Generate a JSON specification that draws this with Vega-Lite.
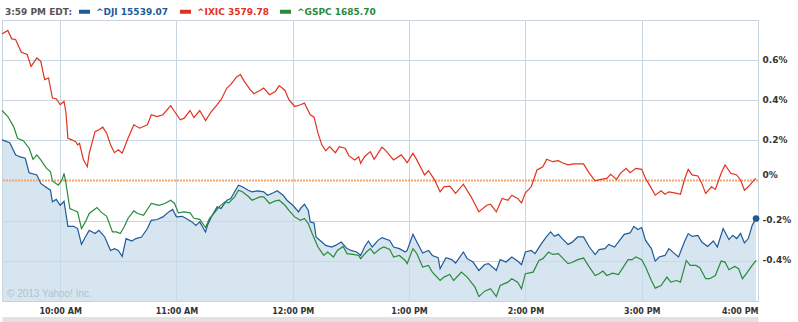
{
  "$schema": "https://vega.github.io/schema/vega-lite/v6.json",
  "width": 756,
  "height": 281,
  "autosize": {"type": "none"},
  "padding": {"left": 2, "top": 20, "right": 40, "bottom": 21},
  "background": "white",
  "config": {"view": {"stroke": "#c5d3de", "strokeWidth": 1}, "font": "DejaVu Sans"},
  "datasets": {
    "quotes": [
      {"s":"IXIC","m":0,"p":0.73},{"s":"IXIC","m":3,"p":0.748},{"s":"IXIC","m":5,"p":0.706},{"s":"IXIC","m":7,"p":0.703},{"s":"IXIC","m":10,"p":0.639},{"s":"IXIC","m":13,"p":0.628},{"s":"IXIC","m":15,"p":0.569},{"s":"IXIC","m":18,"p":0.611},{"s":"IXIC","m":20,"p":0.594},{"s":"IXIC","m":22,"p":0.503},{"s":"IXIC","m":24,"p":0.511},{"s":"IXIC","m":26,"p":0.411},{"s":"IXIC","m":28,"p":0.408},{"s":"IXIC","m":30,"p":0.378},{"s":"IXIC","m":32,"p":0.394},{"s":"IXIC","m":33,"p":0.338},{"s":"IXIC","m":34,"p":0.211},{"s":"IXIC","m":36,"p":0.203},{"s":"IXIC","m":38,"p":0.194},{"s":"IXIC","m":39,"p":0.178},{"s":"IXIC","m":40,"p":0.186},{"s":"IXIC","m":42,"p":0.103},{"s":"IXIC","m":44,"p":0.069},{"s":"IXIC","m":45,"p":0.136},{"s":"IXIC","m":48,"p":0.244},{"s":"IXIC","m":50,"p":0.253},{"s":"IXIC","m":52,"p":0.266},{"s":"IXIC","m":54,"p":0.236},{"s":"IXIC","m":56,"p":0.178},{"s":"IXIC","m":58,"p":0.139},{"s":"IXIC","m":60,"p":0.153},{"s":"IXIC","m":62,"p":0.136},{"s":"IXIC","m":65,"p":0.211},{"s":"IXIC","m":68,"p":0.278},{"s":"IXIC","m":71,"p":0.261},{"s":"IXIC","m":75,"p":0.278},{"s":"IXIC","m":77,"p":0.328},{"s":"IXIC","m":80,"p":0.319},{"s":"IXIC","m":83,"p":0.328},{"s":"IXIC","m":87,"p":0.373},{"s":"IXIC","m":89,"p":0.344},{"s":"IXIC","m":92,"p":0.303},{"s":"IXIC","m":94,"p":0.311},{"s":"IXIC","m":97,"p":0.349},{"s":"IXIC","m":99,"p":0.314},{"s":"IXIC","m":102,"p":0.349},{"s":"IXIC","m":105,"p":0.299},{"s":"IXIC","m":108,"p":0.344},{"s":"IXIC","m":111,"p":0.378},{"s":"IXIC","m":113,"p":0.403},{"s":"IXIC","m":116,"p":0.461},{"s":"IXIC","m":118,"p":0.478},{"s":"IXIC","m":121,"p":0.516},{"s":"IXIC","m":123,"p":0.528},{"s":"IXIC","m":125,"p":0.494},{"s":"IXIC","m":128,"p":0.453},{"s":"IXIC","m":130,"p":0.433},{"s":"IXIC","m":133,"p":0.449},{"s":"IXIC","m":135,"p":0.461},{"s":"IXIC","m":138,"p":0.428},{"s":"IXIC","m":141,"p":0.444},{"s":"IXIC","m":143,"p":0.473},{"s":"IXIC","m":146,"p":0.449},{"s":"IXIC","m":148,"p":0.403},{"s":"IXIC","m":151,"p":0.369},{"s":"IXIC","m":154,"p":0.378},{"s":"IXIC","m":156,"p":0.386},{"s":"IXIC","m":159,"p":0.328},{"s":"IXIC","m":161,"p":0.316},{"s":"IXIC","m":163,"p":0.236},{"s":"IXIC","m":165,"p":0.178},{"s":"IXIC","m":167,"p":0.148},{"s":"IXIC","m":169,"p":0.169},{"s":"IXIC","m":172,"p":0.139},{"s":"IXIC","m":174,"p":0.169},{"s":"IXIC","m":177,"p":0.161},{"s":"IXIC","m":179,"p":0.123},{"s":"IXIC","m":182,"p":0.103},{"s":"IXIC","m":184,"p":0.119},{"s":"IXIC","m":185,"p":0.086},{"s":"IXIC","m":187,"p":0.119},{"s":"IXIC","m":190,"p":0.144},{"s":"IXIC","m":192,"p":0.106},{"s":"IXIC","m":196,"p":0.166},{"s":"IXIC","m":198,"p":0.149},{"s":"IXIC","m":202,"p":0.103},{"s":"IXIC","m":206,"p":0.128},{"s":"IXIC","m":209,"p":0.089},{"s":"IXIC","m":212,"p":0.136},{"s":"IXIC","m":214,"p":0.103},{"s":"IXIC","m":218,"p":0.028},{"s":"IXIC","m":220,"p":0.049},{"s":"IXIC","m":223,"p":0.006},{"s":"IXIC","m":226,"p":-0.056},{"s":"IXIC","m":228,"p":-0.031},{"s":"IXIC","m":231,"p":-0.028},{"s":"IXIC","m":234,"p":-0.064},{"s":"IXIC","m":238,"p":-0.018},{"s":"IXIC","m":242,"p":-0.081},{"s":"IXIC","m":246,"p":-0.156},{"s":"IXIC","m":250,"p":-0.123},{"s":"IXIC","m":252,"p":-0.118},{"s":"IXIC","m":255,"p":-0.156},{"s":"IXIC","m":258,"p":-0.089},{"s":"IXIC","m":261,"p":-0.098},{"s":"IXIC","m":263,"p":-0.073},{"s":"IXIC","m":266,"p":-0.089},{"s":"IXIC","m":268,"p":-0.111},{"s":"IXIC","m":270,"p":-0.061},{"s":"IXIC","m":273,"p":-0.031},{"s":"IXIC","m":276,"p":0.053},{"s":"IXIC","m":279,"p":0.069},{"s":"IXIC","m":281,"p":0.106},{"s":"IXIC","m":284,"p":0.094},{"s":"IXIC","m":287,"p":0.099},{"s":"IXIC","m":289,"p":0.089},{"s":"IXIC","m":292,"p":0.078},{"s":"IXIC","m":295,"p":0.083},{"s":"IXIC","m":300,"p":0.083},{"s":"IXIC","m":303,"p":0.036},{"s":"IXIC","m":306,"p":-0.001},{"s":"IXIC","m":309,"p":0.006},{"s":"IXIC","m":312,"p":0.011},{"s":"IXIC","m":314,"p":0.031},{"s":"IXIC","m":317,"p":0.006},{"s":"IXIC","m":319,"p":0.036},{"s":"IXIC","m":322,"p":0.061},{"s":"IXIC","m":324,"p":0.039},{"s":"IXIC","m":327,"p":0.061},{"s":"IXIC","m":330,"p":0.056},{"s":"IXIC","m":332,"p":0.011},{"s":"IXIC","m":335,"p":-0.039},{"s":"IXIC","m":337,"p":-0.073},{"s":"IXIC","m":340,"p":-0.051},{"s":"IXIC","m":342,"p":-0.068},{"s":"IXIC","m":344,"p":-0.056},{"s":"IXIC","m":347,"p":-0.061},{"s":"IXIC","m":350,"p":-0.068},{"s":"IXIC","m":352,"p":0.003},{"s":"IXIC","m":354,"p":0.056},{"s":"IXIC","m":356,"p":0.028},{"s":"IXIC","m":359,"p":0.023},{"s":"IXIC","m":361,"p":-0.014},{"s":"IXIC","m":363,"p":-0.064},{"s":"IXIC","m":366,"p":-0.031},{"s":"IXIC","m":368,"p":-0.044},{"s":"IXIC","m":371,"p":0.036},{"s":"IXIC","m":373,"p":0.078},{"s":"IXIC","m":376,"p":0.036},{"s":"IXIC","m":379,"p":0.028},{"s":"IXIC","m":381,"p":0.003},{"s":"IXIC","m":383,"p":-0.048},{"s":"IXIC","m":385,"p":-0.031},{"s":"IXIC","m":388,"p":0.003},{"s":"IXIC","m":389,"p":0.011},
      {"s":"DJI","m":0,"p":0.203},{"s":"DJI","m":4,"p":0.189},{"s":"DJI","m":7,"p":0.128},{"s":"DJI","m":9,"p":0.119},{"s":"DJI","m":12,"p":0.111},{"s":"DJI","m":14,"p":0.039},{"s":"DJI","m":18,"p":0.028},{"s":"DJI","m":20,"p":-0.014},{"s":"DJI","m":22,"p":-0.028},{"s":"DJI","m":25,"p":-0.048},{"s":"DJI","m":26,"p":-0.106},{"s":"DJI","m":28,"p":-0.094},{"s":"DJI","m":30,"p":-0.123},{"s":"DJI","m":32,"p":-0.103},{"s":"DJI","m":34,"p":-0.228},{"s":"DJI","m":37,"p":-0.228},{"s":"DJI","m":39,"p":-0.239},{"s":"DJI","m":41,"p":-0.318},{"s":"DJI","m":43,"p":-0.281},{"s":"DJI","m":45,"p":-0.248},{"s":"DJI","m":48,"p":-0.264},{"s":"DJI","m":50,"p":-0.248},{"s":"DJI","m":53,"p":-0.281},{"s":"DJI","m":56,"p":-0.348},{"s":"DJI","m":58,"p":-0.339},{"s":"DJI","m":60,"p":-0.348},{"s":"DJI","m":62,"p":-0.378},{"s":"DJI","m":64,"p":-0.289},{"s":"DJI","m":67,"p":-0.301},{"s":"DJI","m":69,"p":-0.289},{"s":"DJI","m":72,"p":-0.281},{"s":"DJI","m":75,"p":-0.239},{"s":"DJI","m":77,"p":-0.198},{"s":"DJI","m":80,"p":-0.194},{"s":"DJI","m":83,"p":-0.181},{"s":"DJI","m":86,"p":-0.156},{"s":"DJI","m":88,"p":-0.144},{"s":"DJI","m":90,"p":-0.181},{"s":"DJI","m":93,"p":-0.178},{"s":"DJI","m":95,"p":-0.189},{"s":"DJI","m":98,"p":-0.206},{"s":"DJI","m":100,"p":-0.223},{"s":"DJI","m":102,"p":-0.206},{"s":"DJI","m":105,"p":-0.256},{"s":"DJI","m":106,"p":-0.223},{"s":"DJI","m":108,"p":-0.181},{"s":"DJI","m":111,"p":-0.131},{"s":"DJI","m":113,"p":-0.139},{"s":"DJI","m":116,"p":-0.098},{"s":"DJI","m":118,"p":-0.089},{"s":"DJI","m":120,"p":-0.056},{"s":"DJI","m":122,"p":-0.023},{"s":"DJI","m":124,"p":-0.031},{"s":"DJI","m":127,"p":-0.048},{"s":"DJI","m":129,"p":-0.056},{"s":"DJI","m":132,"p":-0.051},{"s":"DJI","m":135,"p":-0.056},{"s":"DJI","m":137,"p":-0.073},{"s":"DJI","m":140,"p":-0.061},{"s":"DJI","m":142,"p":-0.051},{"s":"DJI","m":145,"p":-0.073},{"s":"DJI","m":147,"p":-0.098},{"s":"DJI","m":150,"p":-0.123},{"s":"DJI","m":153,"p":-0.156},{"s":"DJI","m":154,"p":-0.139},{"s":"DJI","m":156,"p":-0.118},{"s":"DJI","m":158,"p":-0.148},{"s":"DJI","m":159,"p":-0.206},{"s":"DJI","m":161,"p":-0.211},{"s":"DJI","m":162,"p":-0.281},{"s":"DJI","m":165,"p":-0.306},{"s":"DJI","m":167,"p":-0.323},{"s":"DJI","m":170,"p":-0.331},{"s":"DJI","m":172,"p":-0.323},{"s":"DJI","m":175,"p":-0.306},{"s":"DJI","m":178,"p":-0.339},{"s":"DJI","m":180,"p":-0.348},{"s":"DJI","m":183,"p":-0.356},{"s":"DJI","m":185,"p":-0.373},{"s":"DJI","m":187,"p":-0.331},{"s":"DJI","m":189,"p":-0.301},{"s":"DJI","m":191,"p":-0.331},{"s":"DJI","m":194,"p":-0.298},{"s":"DJI","m":196,"p":-0.284},{"s":"DJI","m":200,"p":-0.298},{"s":"DJI","m":202,"p":-0.331},{"s":"DJI","m":205,"p":-0.339},{"s":"DJI","m":208,"p":-0.356},{"s":"DJI","m":209,"p":-0.348},{"s":"DJI","m":212,"p":-0.268},{"s":"DJI","m":214,"p":-0.306},{"s":"DJI","m":217,"p":-0.361},{"s":"DJI","m":220,"p":-0.348},{"s":"DJI","m":222,"p":-0.373},{"s":"DJI","m":225,"p":-0.384},{"s":"DJI","m":226,"p":-0.439},{"s":"DJI","m":229,"p":-0.384},{"s":"DJI","m":232,"p":-0.394},{"s":"DJI","m":234,"p":-0.411},{"s":"DJI","m":238,"p":-0.356},{"s":"DJI","m":240,"p":-0.389},{"s":"DJI","m":243,"p":-0.406},{"s":"DJI","m":246,"p":-0.448},{"s":"DJI","m":249,"p":-0.418},{"s":"DJI","m":251,"p":-0.414},{"s":"DJI","m":255,"p":-0.448},{"s":"DJI","m":257,"p":-0.394},{"s":"DJI","m":260,"p":-0.406},{"s":"DJI","m":263,"p":-0.381},{"s":"DJI","m":266,"p":-0.401},{"s":"DJI","m":268,"p":-0.419},{"s":"DJI","m":270,"p":-0.356},{"s":"DJI","m":273,"p":-0.348},{"s":"DJI","m":275,"p":-0.364},{"s":"DJI","m":278,"p":-0.318},{"s":"DJI","m":281,"p":-0.278},{"s":"DJI","m":283,"p":-0.256},{"s":"DJI","m":285,"p":-0.278},{"s":"DJI","m":287,"p":-0.268},{"s":"DJI","m":289,"p":-0.289},{"s":"DJI","m":292,"p":-0.318},{"s":"DJI","m":294,"p":-0.308},{"s":"DJI","m":297,"p":-0.281},{"s":"DJI","m":300,"p":-0.281},{"s":"DJI","m":303,"p":-0.331},{"s":"DJI","m":306,"p":-0.369},{"s":"DJI","m":308,"p":-0.344},{"s":"DJI","m":311,"p":-0.339},{"s":"DJI","m":313,"p":-0.318},{"s":"DJI","m":316,"p":-0.331},{"s":"DJI","m":318,"p":-0.306},{"s":"DJI","m":321,"p":-0.268},{"s":"DJI","m":324,"p":-0.261},{"s":"DJI","m":326,"p":-0.228},{"s":"DJI","m":328,"p":-0.244},{"s":"DJI","m":330,"p":-0.234},{"s":"DJI","m":332,"p":-0.298},{"s":"DJI","m":335,"p":-0.339},{"s":"DJI","m":337,"p":-0.401},{"s":"DJI","m":339,"p":-0.381},{"s":"DJI","m":342,"p":-0.373},{"s":"DJI","m":344,"p":-0.339},{"s":"DJI","m":347,"p":-0.364},{"s":"DJI","m":349,"p":-0.381},{"s":"DJI","m":352,"p":-0.306},{"s":"DJI","m":354,"p":-0.264},{"s":"DJI","m":356,"p":-0.278},{"s":"DJI","m":359,"p":-0.273},{"s":"DJI","m":361,"p":-0.306},{"s":"DJI","m":364,"p":-0.328},{"s":"DJI","m":367,"p":-0.301},{"s":"DJI","m":369,"p":-0.331},{"s":"DJI","m":372,"p":-0.239},{"s":"DJI","m":375,"p":-0.294},{"s":"DJI","m":377,"p":-0.273},{"s":"DJI","m":379,"p":-0.289},{"s":"DJI","m":381,"p":-0.264},{"s":"DJI","m":383,"p":-0.311},{"s":"DJI","m":385,"p":-0.289},{"s":"DJI","m":387,"p":-0.223},{"s":"DJI","m":389,"p":-0.189},
      {"s":"GSPC","m":0,"p":0.349},{"s":"GSPC","m":3,"p":0.319},{"s":"GSPC","m":6,"p":0.269},{"s":"GSPC","m":8,"p":0.211},{"s":"GSPC","m":11,"p":0.199},{"s":"GSPC","m":14,"p":0.161},{"s":"GSPC","m":16,"p":0.106},{"s":"GSPC","m":18,"p":0.128},{"s":"GSPC","m":20,"p":0.103},{"s":"GSPC","m":23,"p":0.061},{"s":"GSPC","m":25,"p":0.044},{"s":"GSPC","m":26,"p":-0.001},{"s":"GSPC","m":29,"p":-0.023},{"s":"GSPC","m":31,"p":0.003},{"s":"GSPC","m":32,"p":0.036},{"s":"GSPC","m":33,"p":-0.014},{"s":"GSPC","m":35,"p":-0.139},{"s":"GSPC","m":37,"p":-0.148},{"s":"GSPC","m":39,"p":-0.156},{"s":"GSPC","m":41,"p":-0.239},{"s":"GSPC","m":43,"p":-0.206},{"s":"GSPC","m":45,"p":-0.164},{"s":"GSPC","m":49,"p":-0.134},{"s":"GSPC","m":51,"p":-0.156},{"s":"GSPC","m":54,"p":-0.178},{"s":"GSPC","m":57,"p":-0.256},{"s":"GSPC","m":59,"p":-0.256},{"s":"GSPC","m":61,"p":-0.264},{"s":"GSPC","m":63,"p":-0.231},{"s":"GSPC","m":65,"p":-0.189},{"s":"GSPC","m":68,"p":-0.151},{"s":"GSPC","m":70,"p":-0.164},{"s":"GSPC","m":73,"p":-0.173},{"s":"GSPC","m":77,"p":-0.114},{"s":"GSPC","m":81,"p":-0.123},{"s":"GSPC","m":84,"p":-0.114},{"s":"GSPC","m":87,"p":-0.098},{"s":"GSPC","m":89,"p":-0.114},{"s":"GSPC","m":91,"p":-0.161},{"s":"GSPC","m":94,"p":-0.156},{"s":"GSPC","m":97,"p":-0.161},{"s":"GSPC","m":99,"p":-0.188},{"s":"GSPC","m":102,"p":-0.193},{"s":"GSPC","m":105,"p":-0.234},{"s":"GSPC","m":107,"p":-0.189},{"s":"GSPC","m":110,"p":-0.156},{"s":"GSPC","m":112,"p":-0.131},{"s":"GSPC","m":115,"p":-0.106},{"s":"GSPC","m":117,"p":-0.111},{"s":"GSPC","m":120,"p":-0.081},{"s":"GSPC","m":122,"p":-0.048},{"s":"GSPC","m":124,"p":-0.056},{"s":"GSPC","m":127,"p":-0.078},{"s":"GSPC","m":129,"p":-0.098},{"s":"GSPC","m":133,"p":-0.081},{"s":"GSPC","m":135,"p":-0.081},{"s":"GSPC","m":138,"p":-0.114},{"s":"GSPC","m":141,"p":-0.101},{"s":"GSPC","m":143,"p":-0.098},{"s":"GSPC","m":146,"p":-0.123},{"s":"GSPC","m":148,"p":-0.148},{"s":"GSPC","m":151,"p":-0.181},{"s":"GSPC","m":154,"p":-0.198},{"s":"GSPC","m":156,"p":-0.189},{"s":"GSPC","m":158,"p":-0.214},{"s":"GSPC","m":160,"p":-0.264},{"s":"GSPC","m":163,"p":-0.331},{"s":"GSPC","m":166,"p":-0.373},{"s":"GSPC","m":168,"p":-0.356},{"s":"GSPC","m":171,"p":-0.381},{"s":"GSPC","m":173,"p":-0.348},{"s":"GSPC","m":176,"p":-0.328},{"s":"GSPC","m":178,"p":-0.364},{"s":"GSPC","m":181,"p":-0.368},{"s":"GSPC","m":184,"p":-0.373},{"s":"GSPC","m":185,"p":-0.389},{"s":"GSPC","m":188,"p":-0.356},{"s":"GSPC","m":190,"p":-0.339},{"s":"GSPC","m":192,"p":-0.364},{"s":"GSPC","m":195,"p":-0.34},{"s":"GSPC","m":197,"p":-0.331},{"s":"GSPC","m":200,"p":-0.343},{"s":"GSPC","m":202,"p":-0.381},{"s":"GSPC","m":205,"p":-0.373},{"s":"GSPC","m":208,"p":-0.398},{"s":"GSPC","m":209,"p":-0.414},{"s":"GSPC","m":212,"p":-0.339},{"s":"GSPC","m":214,"p":-0.364},{"s":"GSPC","m":217,"p":-0.431},{"s":"GSPC","m":220,"p":-0.423},{"s":"GSPC","m":222,"p":-0.456},{"s":"GSPC","m":226,"p":-0.498},{"s":"GSPC","m":228,"p":-0.481},{"s":"GSPC","m":231,"p":-0.468},{"s":"GSPC","m":233,"p":-0.498},{"s":"GSPC","m":237,"p":-0.456},{"s":"GSPC","m":240,"p":-0.481},{"s":"GSPC","m":244,"p":-0.531},{"s":"GSPC","m":246,"p":-0.578},{"s":"GSPC","m":249,"p":-0.551},{"s":"GSPC","m":252,"p":-0.539},{"s":"GSPC","m":255,"p":-0.578},{"s":"GSPC","m":257,"p":-0.523},{"s":"GSPC","m":261,"p":-0.506},{"s":"GSPC","m":263,"p":-0.489},{"s":"GSPC","m":266,"p":-0.506},{"s":"GSPC","m":268,"p":-0.539},{"s":"GSPC","m":270,"p":-0.464},{"s":"GSPC","m":274,"p":-0.456},{"s":"GSPC","m":277,"p":-0.398},{"s":"GSPC","m":279,"p":-0.389},{"s":"GSPC","m":282,"p":-0.356},{"s":"GSPC","m":284,"p":-0.368},{"s":"GSPC","m":287,"p":-0.364},{"s":"GSPC","m":289,"p":-0.384},{"s":"GSPC","m":292,"p":-0.414},{"s":"GSPC","m":294,"p":-0.408},{"s":"GSPC","m":297,"p":-0.394},{"s":"GSPC","m":300,"p":-0.386},{"s":"GSPC","m":303,"p":-0.431},{"s":"GSPC","m":306,"p":-0.473},{"s":"GSPC","m":308,"p":-0.464},{"s":"GSPC","m":310,"p":-0.451},{"s":"GSPC","m":312,"p":-0.473},{"s":"GSPC","m":315,"p":-0.461},{"s":"GSPC","m":318,"p":-0.468},{"s":"GSPC","m":320,"p":-0.439},{"s":"GSPC","m":323,"p":-0.394},{"s":"GSPC","m":325,"p":-0.394},{"s":"GSPC","m":327,"p":-0.381},{"s":"GSPC","m":330,"p":-0.394},{"s":"GSPC","m":332,"p":-0.431},{"s":"GSPC","m":335,"p":-0.498},{"s":"GSPC","m":337,"p":-0.536},{"s":"GSPC","m":340,"p":-0.523},{"s":"GSPC","m":343,"p":-0.481},{"s":"GSPC","m":345,"p":-0.506},{"s":"GSPC","m":348,"p":-0.498},{"s":"GSPC","m":350,"p":-0.506},{"s":"GSPC","m":353,"p":-0.398},{"s":"GSPC","m":355,"p":-0.423},{"s":"GSPC","m":358,"p":-0.423},{"s":"GSPC","m":360,"p":-0.434},{"s":"GSPC","m":363,"p":-0.489},{"s":"GSPC","m":365,"p":-0.489},{"s":"GSPC","m":368,"p":-0.473},{"s":"GSPC","m":371,"p":-0.401},{"s":"GSPC","m":373,"p":-0.406},{"s":"GSPC","m":375,"p":-0.444},{"s":"GSPC","m":378,"p":-0.428},{"s":"GSPC","m":380,"p":-0.439},{"s":"GSPC","m":382,"p":-0.489},{"s":"GSPC","m":384,"p":-0.464},{"s":"GSPC","m":387,"p":-0.423},{"s":"GSPC","m":389,"p":-0.398}
    ]
  },
  "data": {"name": "quotes"},
  "layer": [
    {
      "transform": [{"filter": "datum.s === 'DJI'"}],
      "mark": {"type": "area", "color": "#c4dae9", "opacity": 0.7},
      "encoding": {
        "x": {
          "field": "m", "type": "quantitative",
          "scale": {"domain": [0, 390], "nice": false, "zero": false},
          "axis": {
            "values": [30, 90, 150, 210, 270, 330, 390],
            "labelExpr": "(floor((570 + datum.value) / 60) > 12 ? floor((570 + datum.value) / 60) - 12 : floor((570 + datum.value) / 60)) + ':00 ' + (floor((570 + datum.value) / 60) >= 12 ? 'PM' : 'AM')",
            "title": null,
            "grid": true, "gridColor": "#c9d6df", "gridWidth": 1,
            "ticks": false, "tickSize": 0,
            "domain": true, "domainColor": "#e2e2e2", "domainWidth": 5, "offset": 18,
            "labelPadding": -12,
            "labelFont": "DejaVu Sans", "labelFontSize": 8, "labelFontWeight": "bold", "labelColor": "#333333",
            "labelFlush": true
          }
        },
        "y": {
          "field": "p", "type": "quantitative",
          "scale": {"domain": [-0.6, 0.8], "nice": false, "zero": false},
          "axis": {
            "orient": "right",
            "values": [-0.4, -0.2, 0, 0.2, 0.4, 0.6],
            "labelExpr": "datum.value === 0 ? '0%' : (datum.value < 0 ? '-' : '') + format(abs(datum.value), '.1f') + '%'",
            "title": null,
            "grid": true,
            "gridColor": {"condition": {"test": "datum.value === 0", "value": "transparent"}, "value": "#c9d6df"},
            "ticks": false, "domain": false,
            "labelPadding": 4,
            "labelOffset": {"condition": {"test": "datum.value === 0", "value": -6}, "value": -1},
            "labelFont": "DejaVu Sans", "labelFontSize": 9, "labelFontWeight": "bold", "labelColor": "#333333"
          }
        },
        "y2": {"datum": -0.6}
      }
    },
    {
      "data": {"values": [{}]},
      "mark": {"type": "rule", "stroke": "#f5a36d", "color": "#f5a36d", "opacity": 1, "strokeDash": [2, 1], "strokeWidth": 2},
      "encoding": {"y": {"datum": 0}}
    },
    {
      "mark": {"type": "line", "strokeWidth": 1.2},
      "encoding": {
        "x": {"field": "m", "type": "quantitative"},
        "y": {"field": "p", "type": "quantitative"},
        "color": {
          "field": "s", "type": "nominal",
          "scale": {"domain": ["DJI", "IXIC", "GSPC"], "range": ["#1f5a98", "#e0321e", "#2a8a3c"]},
          "legend": {
            "orient": "none", "legendX": 3, "legendY": -16,
            "direction": "horizontal",
            "title": "3:59 PM EDT:", "titleOrient": "left",
            "titleFont": "DejaVu Sans", "titleFontSize": 9, "titleFontWeight": "bold", "titleColor": "#555555", "titlePadding": 4,
            "symbolType": "stroke", "symbolSize": 121, "symbolStrokeWidth": 4,
            "labelFont": "DejaVu Sans", "labelFontSize": 9, "labelFontWeight": "bold", "labelOffset": 4, "labelLimit": 200,
            "columnPadding": 3, "padding": 0,
            "labelExpr": "datum.value === 'DJI' ? '^DJI 15539.07' : datum.value === 'IXIC' ? '^IXIC 3579.78' : '^GSPC 1685.70'",
            "encode": {"labels": {"update": {"fill": {"scale": "color", "field": "value"}}}}
          }
        }
      }
    },
    {
      "transform": [{"filter": "datum.s === 'DJI' && datum.m === 389"}],
      "mark": {"type": "circle", "size": 45, "color": "#1f5a98", "opacity": 1},
      "encoding": {
        "x": {"field": "m", "type": "quantitative"},
        "y": {"field": "p", "type": "quantitative"}
      }
    },
    {
      "data": {"values": [{}]},
      "mark": {"type": "text", "text": "© 2013 Yahoo! Inc.", "font": "Liberation Sans", "fontSize": 10, "color": "#b3c2ce", "align": "left", "baseline": "bottom", "dx": 5, "dy": -2},
      "encoding": {"x": {"datum": 0}, "y": {"datum": -0.6}}
    }
  ]
}
